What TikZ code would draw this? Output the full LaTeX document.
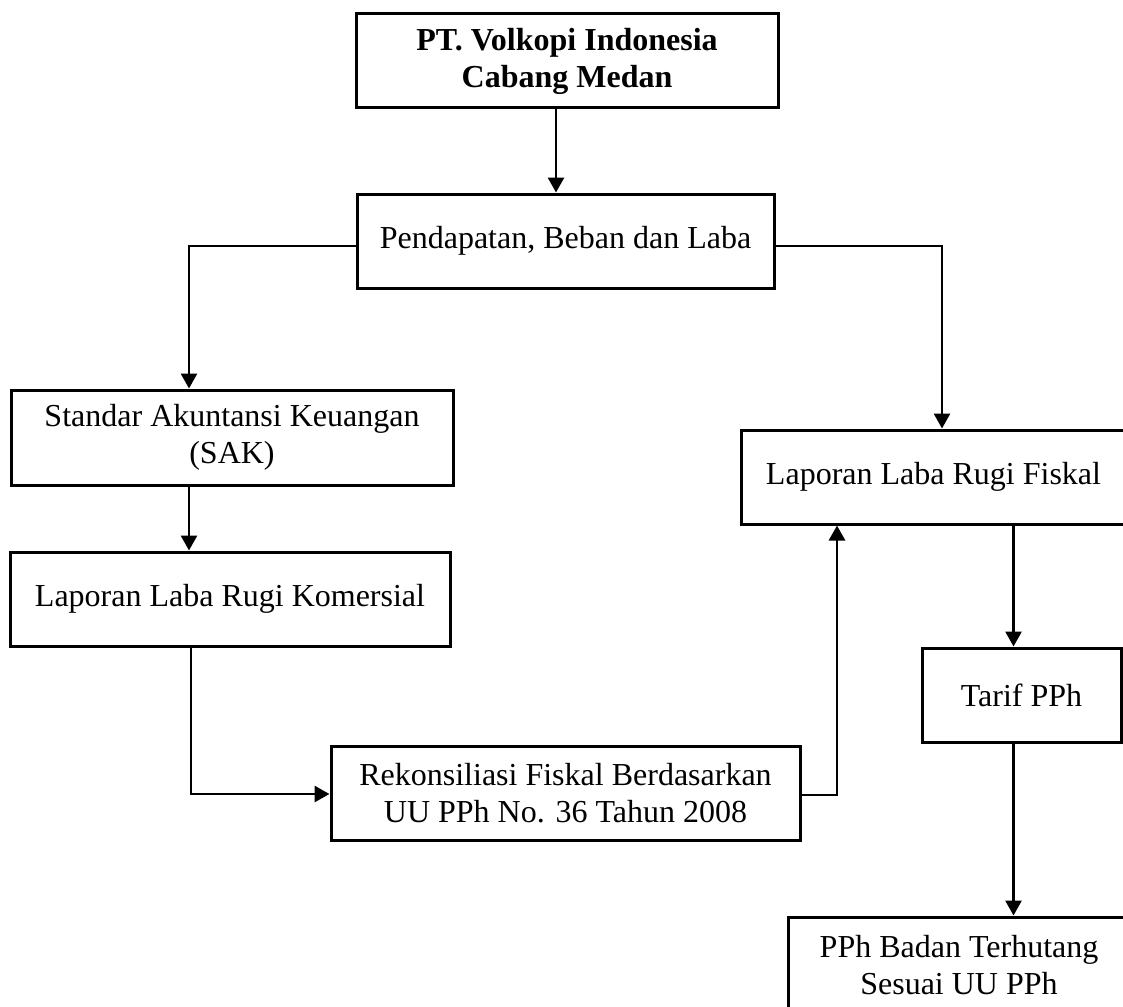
\documentclass[tikz,border=0pt]{standalone}
\usepackage{fontspec}
\setmainfont{Liberation Serif}
\usetikzlibrary{arrows.meta}
\begin{document}
\begin{tikzpicture}[x=1pt,y=-1pt,
  box/.style={draw, line width=3pt, inner sep=0pt, align=center,
    font=\fontsize{32}{37}\selectfont},
  boldbox/.style={box, font=\fontsize{32}{37}\selectfont\bfseries},
  arr/.style={line width=2.8pt, -{Triangle[width=16pt,length=15pt]}}]
\useasboundingbox (0,0) rectangle (1123,1006);
\fill[white] (0,0) rectangle (1123,1006);

\node[boldbox, minimum width=422pt, minimum height=94pt] (b1) at (567,61)
  {PT. Volkopi Indonesia\\Cabang Medan};
\node[box, minimum width=417pt, minimum height=94pt] (b2) at (565.5,241)
  {Pendapatan, Beban dan Laba};
\node[box, minimum width=442pt, minimum height=95pt] (sak) at (232,437.5)
  {Standar Akuntansi Keuangan\\(SAK)};
\node[box, minimum width=440pt, minimum height=94pt] (kom) at (230,599)
  {Laporan Laba Rugi Komersial};
\node[box, minimum width=469pt, minimum height=94pt] (rek) at (565.5,793)
  {Rekonsiliasi Fiskal Berdasarkan\\UU PPh No. 36 Tahun 2008};
\node[box, minimum width=385pt, minimum height=94pt] (fis) at (933.5,477)
  {Laporan Laba Rugi Fiskal};
\node[box, minimum width=199pt, minimum height=94pt] (tar) at (1021.5,695)
  {Tarif PPh};
\node[box, minimum width=342pt, minimum height=96pt] (pph) at (959,965)
  {PPh Badan Terhutang\\Sesuai UU PPh};

\coordinate (c1) at (556,0);
\coordinate (jl) at (189,246);
\coordinate (jr) at (942,246);
\coordinate (jk) at (189,0);
\coordinate (jm) at (191,794);
\coordinate (jf) at (837,795);
\coordinate (jt) at (1013.5,0);

\draw[arr] (c1 |- b1.south) -- (c1 |- b2.north);
\draw[arr] (jl -| b2.west) -| (jl |- sak.north);
\draw[arr] (jr -| b2.east) -| (jr |- fis.north);
\draw[arr] (jk |- sak.south) -- (jk |- kom.north);
\draw[arr] (jm |- kom.south) |- (jm -| rek.west);
\draw[arr] (jf -| rek.east) -| (jf |- fis.south);
\draw[arr] (jt |- fis.south) -- (jt |- tar.north);
\draw[arr] (jt |- tar.south) -- (jt |- pph.north);
\end{tikzpicture}
\end{document}
